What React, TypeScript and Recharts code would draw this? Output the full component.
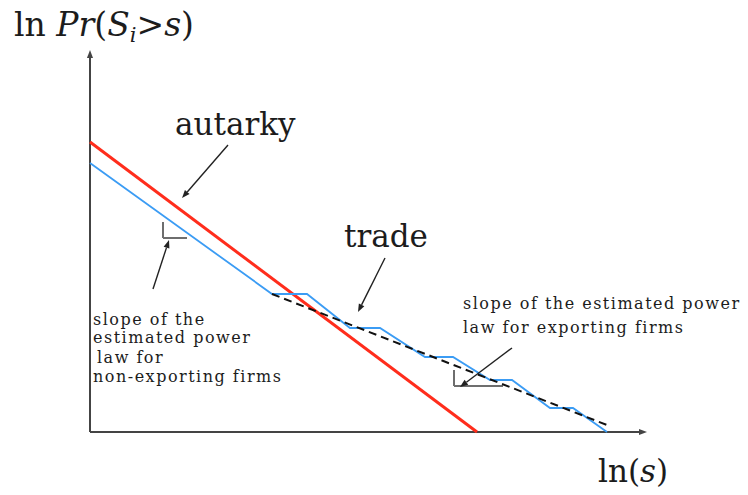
import { ComposedChart, Line, XAxis, YAxis, ReferenceLine } from 'recharts';

// units: ln(s) on x, ln Pr(S_i > s) on y (arbitrary scale)
const autarky = [
  { x: 0, y: 29.0 },
  { x: 38.7, y: 0 },
];

const trade = [
  { x: 0, y: 26.9 },
  { x: 18.2, y: 13.8 },
  { x: 21.7, y: 13.8 },
  { x: 26.0, y: 10.4 },
  { x: 29.0, y: 10.4 },
  { x: 33.5, y: 7.5 },
  { x: 36.3, y: 7.5 },
  { x: 40.0, y: 5.2 },
  { x: 42.2, y: 5.2 },
  { x: 46.0, y: 2.4 },
  { x: 48.3, y: 2.4 },
  { x: 51.7, y: 0 },
];

const fitted = [
  { x: 18.2, y: 13.8 },
  { x: 51.7, y: 0.7 },
];

// slope markers (little right-angle brackets)
const slopeLeft = [
  [{ x: 7.3, y: 21.0 }, { x: 7.3, y: 19.4 }],
  [{ x: 7.3, y: 19.4 }, { x: 9.7, y: 19.4 }],
];
const slopeRight = [
  [{ x: 36.4, y: 6.2 }, { x: 36.4, y: 4.6 }],
  [{ x: 36.4, y: 4.6 }, { x: 41.3, y: 4.6 }],
];

// annotation arrows: from -> to
const arrows = [
  [{ x: 13.8, y: 28.7 }, { x: 9.2, y: 23.4 }],
  [{ x: 6.3, y: 14.3 }, { x: 7.9, y: 19.2 }],
  [{ x: 29.5, y: 17.4 }, { x: 26.8, y: 12.0 }],
  [{ x: 42.2, y: 8.4 }, { x: 37.0, y: 4.5 }],
];

const axes = [
  [{ x: 0, y: 0 }, { x: 55.7, y: 0 }],
  [{ x: 0, y: 0 }, { x: 0, y: 38.2 }],
];

const FONT = '"DejaVu Serif", serif';
const INK = '#1c1c1c';

function arrowShape(size: number, color: string, width: number) {
  return (p: any) => {
    const { x1, y1, x2, y2 } = p;
    const a = Math.atan2(y2 - y1, x2 - x1);
    const bx = x2 - size * Math.cos(a);
    const by = y2 - size * Math.sin(a);
    const w = size * 0.38;
    const pts = [
      `${x2},${y2}`,
      `${bx - w * Math.sin(a)},${by + w * Math.cos(a)}`,
      `${bx + w * Math.sin(a)},${by - w * Math.cos(a)}`,
    ].join(' ');
    return (
      <g>
        <line x1={x1} y1={y1} x2={bx} y2={by} stroke={color} strokeWidth={width} />
        <polygon points={pts} fill={color} />
      </g>
    );
  };
}

export default function App() {
  return (
    <div style={{ position: 'absolute', left: 0, top: 0, width: 748, height: 495, background: '#fff' }}>
      <ComposedChart width={748} height={495} margin={{ top: 52, right: 98, bottom: 63, left: 90 }}>
        <XAxis type="number" dataKey="x" domain={[0, 56]} hide />
        <YAxis type="number" dataKey="y" domain={[0, 38]} hide />
        {axes.map((seg, i) => (
          <ReferenceLine key={`ax-${i}`} segment={seg} ifOverflow="visible" shape={arrowShape(8, '#444', 2)} />
        ))}
        {[...slopeLeft, ...slopeRight].map((seg, i) => (
          <ReferenceLine key={`sl-${i}`} segment={seg} ifOverflow="visible" stroke="#6e6e6e" strokeWidth={2} />
        ))}
        <Line data={autarky} dataKey="y" type="linear" stroke="#ff2d1c" strokeWidth={3} dot={false} isAnimationActive={false} />
        <Line data={trade} dataKey="y" type="linear" stroke="#3b9cf4" strokeWidth={1.8} dot={false} isAnimationActive={false} />
        <Line data={fitted} dataKey="y" type="linear" stroke="#111" strokeWidth={2} strokeDasharray="8 5" dot={false} isAnimationActive={false} />
        {arrows.map((seg, i) => (
          <ReferenceLine key={`ar-${i}`} segment={seg} ifOverflow="visible" shape={arrowShape(8, '#222', 1.4)} />
        ))}
      </ComposedChart>
      <svg width={748} height={495} style={{ position: 'absolute', left: 0, top: 0, pointerEvents: 'none' }}>
        <text x={14} y={36} fontFamily={FONT} fontSize={33} fill={INK}>
          ln <tspan fontStyle="italic">Pr</tspan>(<tspan fontStyle="italic">S</tspan>
          <tspan fontStyle="italic" fontSize={21} dy={6}>i</tspan>
          <tspan dy={-6}>&gt;</tspan><tspan fontStyle="italic">s</tspan>)
        </text>
        <text x={175} y={135} fontFamily={FONT} fontSize={31} fill={INK}>autarky</text>
        <text x={344} y={247} fontFamily={FONT} fontSize={31} fill={INK}>trade</text>
        <text x={598} y={482} fontFamily={FONT} fontSize={31} fill={INK}>
          ln(<tspan fontStyle="italic">s</tspan>)
        </text>
        <g fontFamily={FONT} fontSize={16} letterSpacing={1.5} fill={INK}>
          <text x={93} y={325}>slope of the</text>
          <text x={93} y={343}>estimated power</text>
          <text x={97} y={363}>law for</text>
          <text x={93} y={382}>non-exporting firms</text>
          <text x={463} y={309}>slope of the estimated power</text>
          <text x={463} y={333}>law for exporting firms</text>
        </g>
      </svg>
    </div>
  );
}
